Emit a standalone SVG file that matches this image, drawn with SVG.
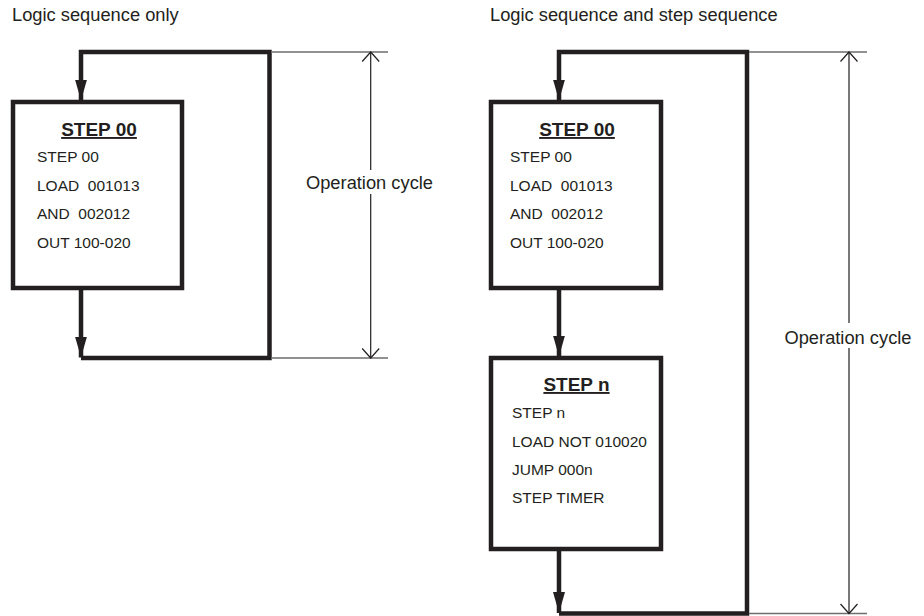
<svg xmlns="http://www.w3.org/2000/svg" width="924" height="616" viewBox="0 0 924 616">
<style>
  .box{fill:#fff;stroke:#231f20;stroke-width:4.5}
  .flow{fill:none;stroke:#231f20;stroke-width:4.5;stroke-linejoin:miter;stroke-linecap:butt}
  .ext{fill:none;stroke:#6d6e71;stroke-width:1.5}
  .dim{fill:none;stroke:#231f20;stroke-width:1.2}
  .title{font-family:"Liberation Sans",Arial,sans-serif;font-size:18.3px;fill:#231f20}
  .head{font-family:"Liberation Sans",Arial,sans-serif;font-size:19px;font-weight:bold;fill:#231f20;text-decoration:underline;text-anchor:middle}
  .body{font-family:"Liberation Sans",Arial,sans-serif;font-size:15.5px;fill:#231f20;white-space:pre}
  .lbl{font-family:"Liberation Sans",Arial,sans-serif;font-size:18.3px;fill:#231f20;text-anchor:middle}
</style>
<defs>
  <marker id="ah" markerUnits="userSpaceOnUse" markerWidth="21" markerHeight="12" refX="21" refY="6" orient="auto" viewBox="0 0 21 12">
    <path d="M0,0 L21,6 L0,12 z" fill="#231f20"/>
  </marker>
</defs>
<rect width="924" height="616" fill="#fff"/>

<g id="titles">
  <text class="title" x="12" y="21">Logic sequence only</text>
  <text class="title" x="490" y="21">Logic sequence and step sequence</text>
</g>

<g id="connectors">
  <path class="flow" d="M81,288 V357.5" marker-end="url(#ah)"/>
  <path class="flow" d="M81,358 H269.5 V52 H81 V100.5" marker-end="url(#ah)"/>
  <path class="flow" d="M559,288 V356.5" marker-end="url(#ah)"/>
  <path class="flow" d="M559,549 V613" marker-end="url(#ah)"/>
  <path class="flow" d="M559,613.5 H747 V52 H559 V100.5" marker-end="url(#ah)"/>
</g>

<g id="node-left-step00">
  <rect class="box" x="13" y="102" width="169" height="186"/>
  <text class="head" x="99" y="136">STEP 00</text>
  <text class="body" x="37" y="162">STEP 00</text>
  <text class="body" x="37" y="190.5">LOAD  001013</text>
  <text class="body" x="37" y="219">AND  002012</text>
  <text class="body" x="37" y="247.5">OUT 100-020</text>
</g>

<g id="node-right-step00">
  <rect class="box" x="491" y="102" width="170" height="186"/>
  <text class="head" x="577" y="136">STEP 00</text>
  <text class="body" x="510" y="162">STEP 00</text>
  <text class="body" x="510" y="190.5">LOAD  001013</text>
  <text class="body" x="510" y="219">AND  002012</text>
  <text class="body" x="510" y="247.5">OUT 100-020</text>
</g>

<g id="node-right-stepn">
  <rect class="box" x="491" y="358" width="170" height="191"/>
  <text class="head" x="576.5" y="391">STEP n</text>
  <text class="body" x="512" y="418">STEP n</text>
  <text class="body" x="512" y="447">LOAD NOT 010020</text>
  <text class="body" x="512" y="475">JUMP 000n</text>
  <text class="body" x="512" y="503">STEP TIMER</text>
</g>

<g id="dimension-left">
  <path class="ext" d="M271,52 H388 M271,358 H388"/>
  <path class="dim" d="M370.7,52 V170 M370.7,194 V358"/>
  <path class="dim" d="M362.2,61.5 L370.7,52 L379.2,61.5 M362.2,348.5 L370.7,358 L379.2,348.5"/>
  <text class="lbl" x="369.5" y="189">Operation cycle</text>
</g>

<g id="dimension-right">
  <path class="ext" d="M749,52 H867 M749,613.5 H867"/>
  <path class="dim" d="M849,52 V323 M849,348 V613.5"/>
  <path class="dim" d="M840.5,61.5 L849,52 L857.5,61.5 M840.5,604 L849,613.5 L857.5,604"/>
  <text class="lbl" x="848" y="344">Operation cycle</text>
</g>
</svg>
